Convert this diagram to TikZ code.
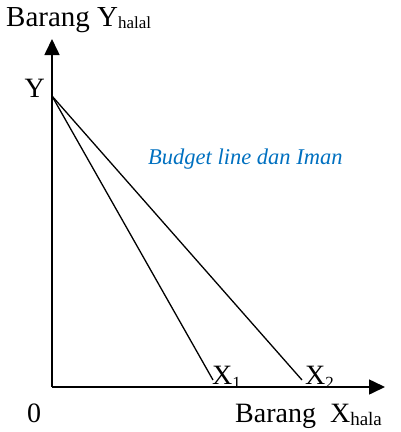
\documentclass[tikz,border=0pt]{standalone}
\usepackage{fontspec}
\setmainfont{Liberation Serif}
\usetikzlibrary{arrows.meta}
\definecolor{imanblue}{RGB}{0,112,192}
\newcommand{\subtxt}[2]{\raisebox{-#2}{\fontsize{17}{17}\selectfont #1}}
\tikzset{
	axis/.style={line width=1.6pt, -{Triangle[length=16pt, width=15pt]}},
	budget/.style={line width=1.3pt},
	lbl/.style={inner sep=0pt, font=\fontsize{28}{28}\selectfont},
	curvelbl/.style={inner sep=0pt, font=\fontsize{22.5}{22.5}\selectfont\itshape, text=imanblue}
}

\begin{document}
\begin{tikzpicture}[x=1pt, y=-1pt]
		\useasboundingbox (0,0) rectangle (401,432);
		% axes
		\coordinate (O) at (52,387);
		\coordinate (ytip) at (52,39);
		\coordinate (xtip) at (385,387);
		\draw[axis] (O) -- (ytip);
		\draw[axis] (O) -- (xtip);
		
		% budget lines
		\coordinate (Y) at (52,96);
		\coordinate (X1) at (213,380);
		\coordinate (X2) at (302,380);
		\draw[budget] (Y) -- (X1);
		\draw[budget] (Y) -- (X2);
		
		% labels
		\node[lbl, anchor=base west, font=\fontsize{29}{29}\selectfont] (ylabel) at (6,26) {Barang Y\subtxt{halal}{2pt}};
		\node[lbl, anchor=base east] (ytxt) at (45,97) {Y};
		\node[lbl, anchor=base west] (zero) at (27,422) {0};
		\node[lbl, anchor=base west] (x1txt) at (212,384) {X\subtxt{1}{4pt}};
		\node[lbl, anchor=base west] (x2txt) at (305,384) {X\subtxt{2}{4pt}};
		\node[lbl, anchor=base west] (xlabel) at (235,422) {Barang \ X{\fontsize{19}{19}\selectfont\raisebox{-3pt}{hala}}};
		\node[curvelbl, anchor=base west] (budgettxt) at (148,164) {Budget line dan Iman};
	\end{tikzpicture}
\end{document}
